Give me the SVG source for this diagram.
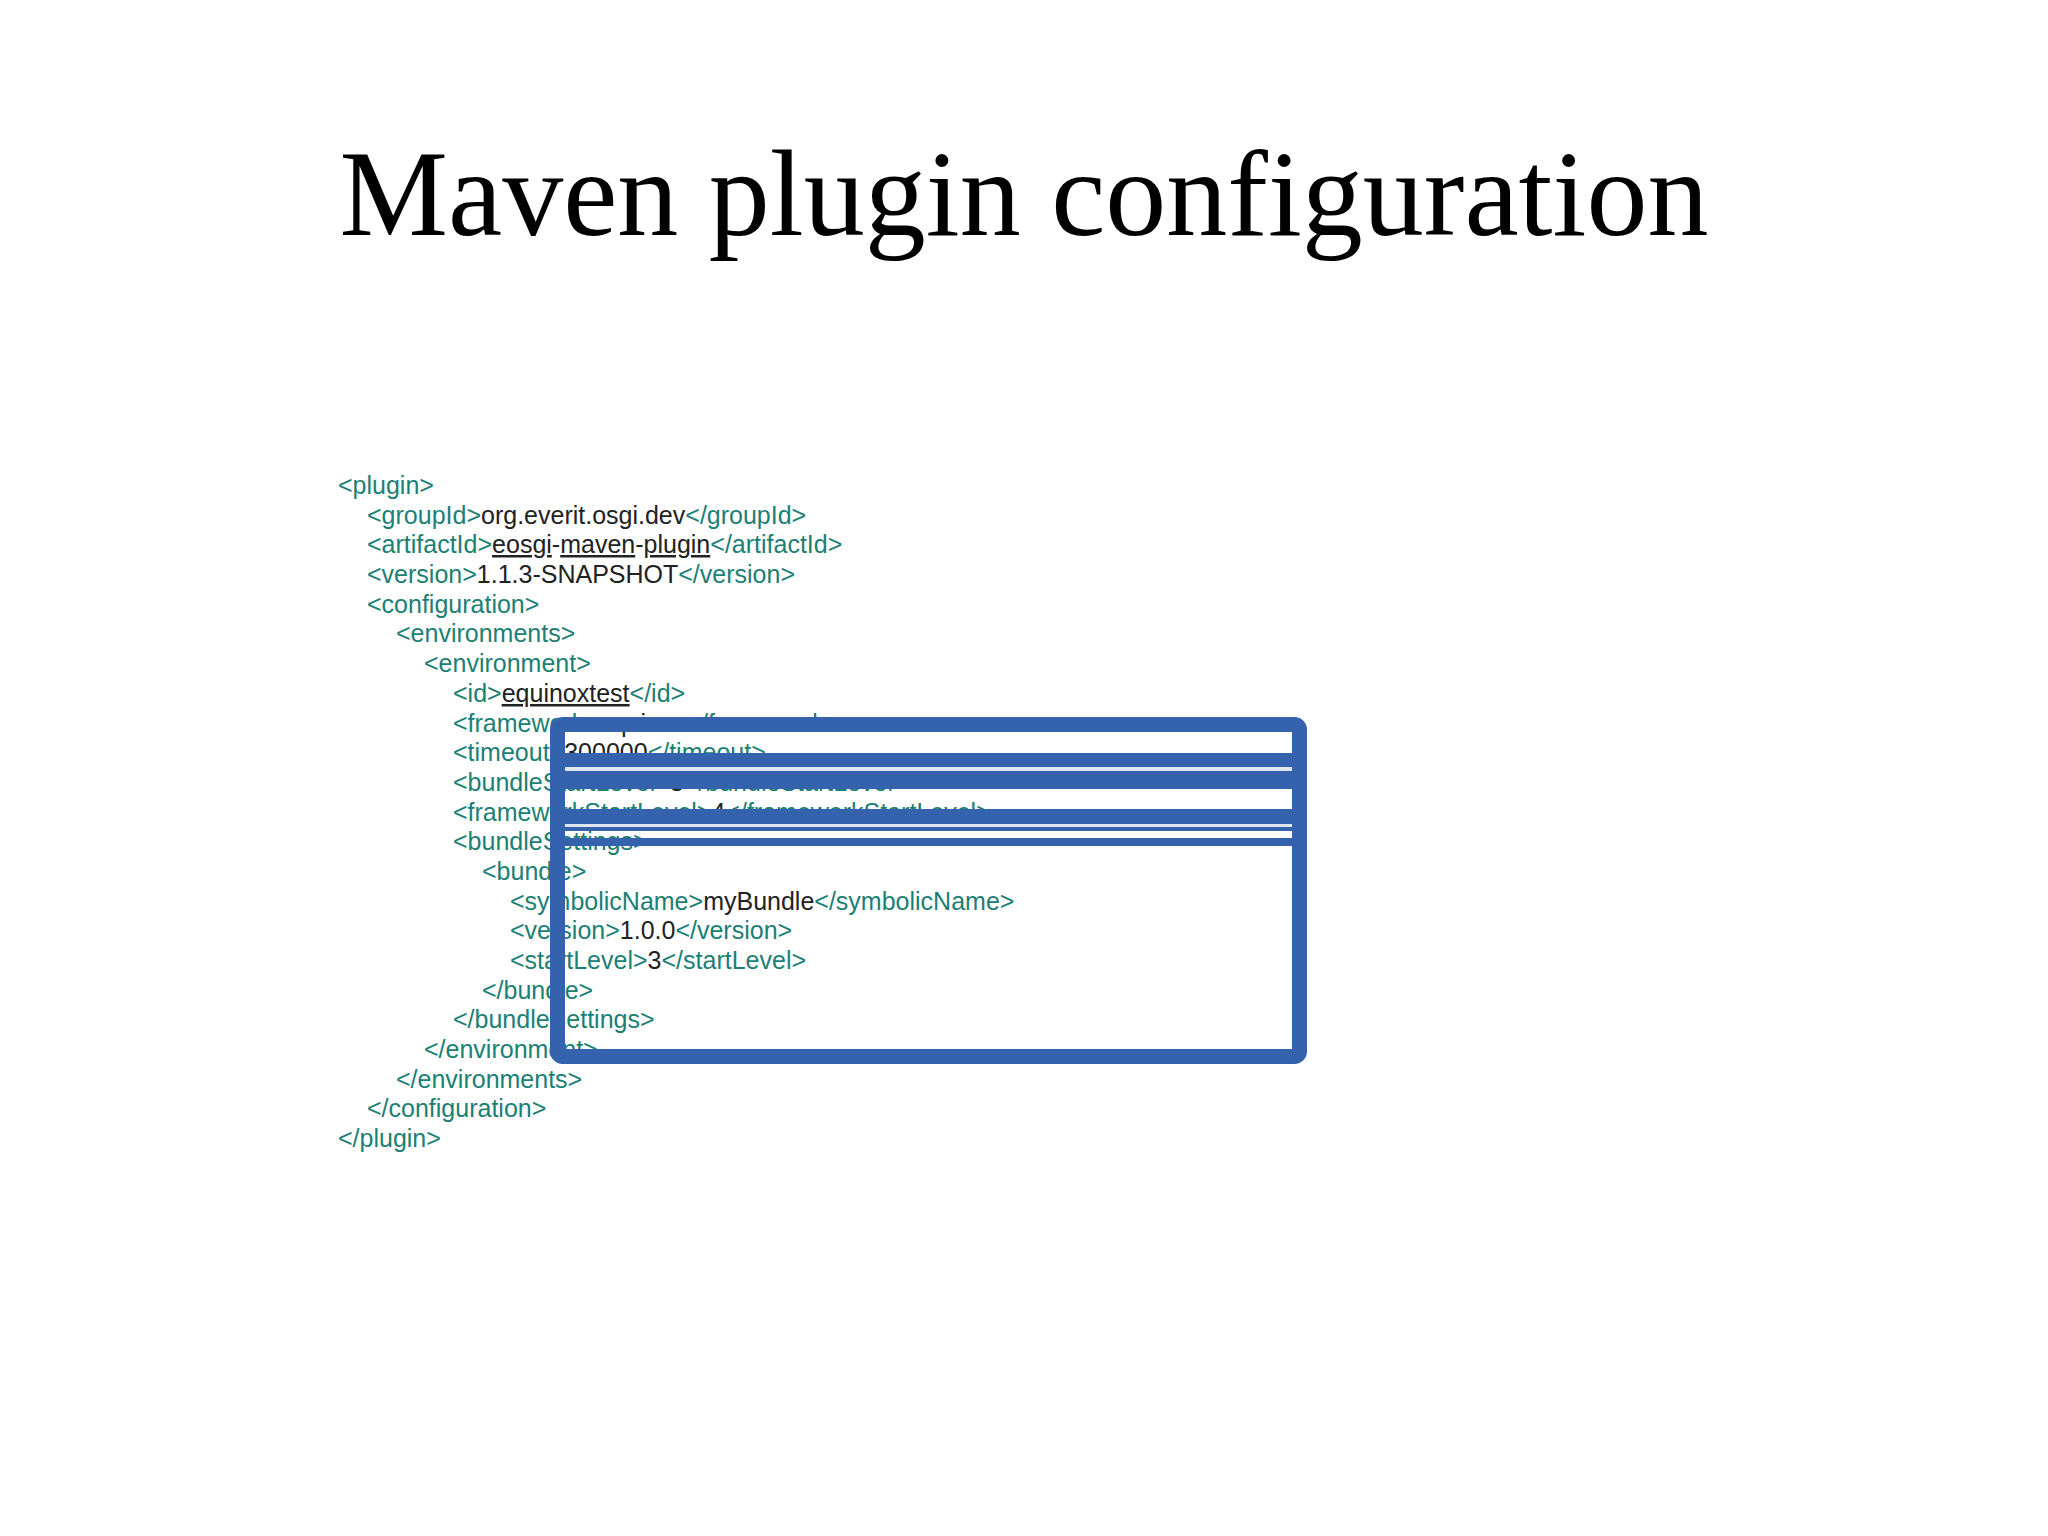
<svg xmlns="http://www.w3.org/2000/svg" width="2048" height="1536" viewBox="0 0 2048 1536">
<style>
.t{font-family:"Liberation Sans",Arial,sans-serif;font-size:25px;fill:#1b8075}
.v{fill:#222}
.u{text-decoration:underline}
.title{font-family:"Liberation Serif","Times New Roman",serif;font-size:122px;fill:#000}
.bar{fill:#3462ad}
</style>
<rect width="2048" height="1536" fill="#fff"/>
<g id="title"><text class="title" x="1024" y="235" text-anchor="middle">Maven plugin configuration</text></g>
<g id="code">
<text class="t" x="338" y="494">&lt;plugin&gt;</text>
<text class="t" x="367" y="524">&lt;groupId&gt;<tspan class="v">org.everit.osgi.dev</tspan>&lt;/groupId&gt;</text>
<text class="t" x="367" y="553">&lt;artifactId&gt;<tspan class="v u">eosgi</tspan><tspan class="v">-</tspan><tspan class="v u">maven</tspan><tspan class="v">-</tspan><tspan class="v u">plugin</tspan>&lt;/artifactId&gt;</text>
<text class="t" x="367" y="583">&lt;version&gt;<tspan class="v">1.1.3-SNAPSHOT</tspan>&lt;/version&gt;</text>
<text class="t" x="367" y="613">&lt;configuration&gt;</text>
<text class="t" x="396" y="642">&lt;environments&gt;</text>
<text class="t" x="424" y="672">&lt;environment&gt;</text>
<text class="t" x="453" y="702">&lt;id&gt;<tspan class="v u">equinoxtest</tspan>&lt;/id&gt;</text>
<text class="t" x="453" y="732">&lt;framework&gt;<tspan class="v">equinox</tspan>&lt;/framework&gt;</text>
<text class="t" x="453" y="761">&lt;timeout&gt;<tspan class="v">300000</tspan>&lt;/timeout&gt;</text>
<text class="t" x="453" y="791">&lt;bundleStartLevel&gt;<tspan class="v">3</tspan>&lt;/bundleStartLevel&gt;</text>
<text class="t" x="453" y="821">&lt;frameworkStartLevel&gt;<tspan class="v">4</tspan>&lt;/frameworkStartLevel&gt;</text>
<text class="t" x="453" y="850">&lt;bundleSettings&gt;</text>
<text class="t" x="482" y="880">&lt;bundle&gt;</text>
<text class="t" x="510" y="910">&lt;symbolicName&gt;<tspan class="v">myBundle</tspan>&lt;/symbolicName&gt;</text>
<text class="t" x="510" y="939">&lt;version&gt;<tspan class="v">1.0.0</tspan>&lt;/version&gt;</text>
<text class="t" x="510" y="969">&lt;startLevel&gt;<tspan class="v">3</tspan>&lt;/startLevel&gt;</text>
<text class="t" x="482" y="999">&lt;/bundle&gt;</text>
<text class="t" x="453" y="1028">&lt;/bundleSettings&gt;</text>
<text class="t" x="424" y="1058">&lt;/environment&gt;</text>
<text class="t" x="396" y="1088">&lt;/environments&gt;</text>
<text class="t" x="367" y="1117">&lt;/configuration&gt;</text>
<text class="t" x="338" y="1147">&lt;/plugin&gt;</text>
</g>
<g id="highlight">
<rect x="557.5" y="724.5" width="742" height="332" rx="5" fill="none" stroke="#3462ad" stroke-width="15"/>
<rect class="bar" x="557" y="753" width="743" height="36"/>
<rect x="565" y="767" width="727" height="4" fill="#dfe6f2"/>
<rect class="bar" x="557" y="809" width="743" height="22"/>
<rect x="565" y="824" width="727" height="3" fill="#dfe6f2"/>
<rect class="bar" x="557" y="838" width="743" height="8"/>
</g>
</svg>
